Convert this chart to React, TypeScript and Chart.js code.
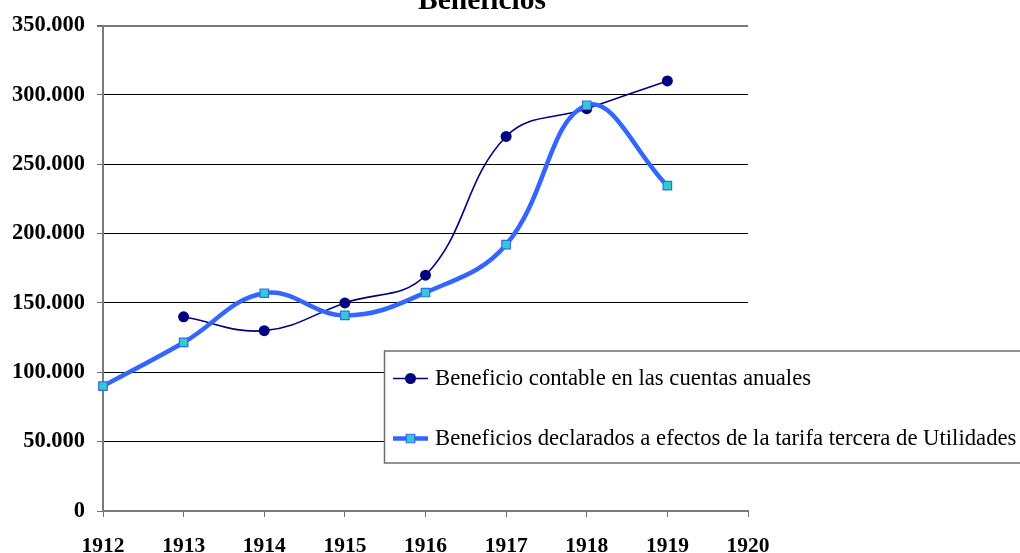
import React, { useEffect, useRef } from "react";
import { Chart, registerables } from "chart.js";

Chart.register(...registerables);

const chartTitle = "Beneficios";
const years = [1912, 1913, 1914, 1915, 1916, 1917, 1918, 1919];
const beneficioContable = [null, 140000, 130000, 150000, 170000, 270000, 290000, 310000];
const beneficiosDeclarados = [90000, 121500, 157000, 141000, 157500, 192000, 292500, 234500];
const seriesLabels = [
  "Beneficio contable en las cuentas anuales",
  "Beneficios declarados a efectos de la tarifa tercera de Utilidades",
];
const xMin = 1912;
const xMax = 1920;
const yMax = 350000;
const yStep = 50000;

const SERIF = "'Liberation Serif', 'Times New Roman', serif";

function fmt(v: number): string {
  return String(Math.round(v)).replace(/\B(?=(\d{3})+(?!\d))/g, ".");
}

const titlePlugin = {
  id: "excelTitle",
  afterDraw(chart: any) {
    const ctx = chart.ctx;
    ctx.save();
    ctx.font = `bold 29.5px ${SERIF}`;
    ctx.fillStyle = "#000";
    ctx.textAlign = "center";
    ctx.textBaseline = "alphabetic";
    ctx.fillText(chartTitle, 482, 8.5);
    ctx.restore();
  },
};

const legendPlugin = {
  id: "excelLegend",
  afterDraw(chart: any) {
    const ctx = chart.ctx;
    ctx.save();
    const bx = 384.5, by = 351, bw = 700, bh = 112;
    ctx.fillStyle = "#fff";
    ctx.fillRect(bx, by, bw, bh);
    ctx.strokeStyle = "#6e6e6e";
    ctx.lineWidth = 1.5;
    ctx.strokeRect(bx, by, bw, bh);
    const rows = [378.5, 438.5];
    chart.data.datasets.forEach((ds: any, i: number) => {
      const cy = rows[i];
      ctx.strokeStyle = ds.borderColor;
      ctx.lineWidth = ds.borderWidth;
      ctx.lineCap = "butt";
      ctx.beginPath();
      ctx.moveTo(393, cy);
      ctx.lineTo(428, cy);
      ctx.stroke();
      ctx.fillStyle = ds.pointBackgroundColor;
      ctx.strokeStyle = ds.pointBorderColor;
      ctx.lineWidth = ds.pointBorderWidth;
      const r = ds.pointRadius;
      const mx = 410.5;
      if (ds.pointStyle === "rect") {
        const s = r * Math.SQRT1_2;
        ctx.beginPath();
        ctx.rect(mx - s, cy - s, 2 * s, 2 * s);
        ctx.fill();
        ctx.stroke();
      } else {
        ctx.beginPath();
        ctx.arc(mx, cy, r, 0, Math.PI * 2);
        ctx.fill();
        if (ds.pointBorderWidth) ctx.stroke();
      }
      ctx.fillStyle = "#000";
      ctx.font = `22.7px ${SERIF}`;
      ctx.textAlign = "left";
      ctx.textBaseline = "middle";
      ctx.fillText(ds.label, 435, cy + 1);
    });
    ctx.restore();
  },
};

export default function App() {
  const ref = useRef<HTMLCanvasElement | null>(null);

  useEffect(() => {
    document.body.style.margin = "0";
    const canvas = ref.current;
    if (!canvas) return;
    const s1 = years.map((y, i) => ({ x: y, y: beneficioContable[i] }));
    const s2 = years.map((y, i) => ({ x: y, y: beneficiosDeclarados[i] }));
    const chart = new Chart(canvas, {
      type: "line",
      data: {
        datasets: [
          {
            label: seriesLabels[0],
            data: s1,
            borderColor: "#000080",
            backgroundColor: "#000080",
            borderWidth: 1.6,
            pointStyle: "circle",
            pointRadius: 5.5,
            pointBackgroundColor: "#000080",
            pointBorderColor: "#000080",
            pointBorderWidth: 0,
            tension: 0.4,
            spanGaps: false,
            clip: false,
            order: 1,
          },
          {
            label: seriesLabels[1],
            data: s2,
            borderColor: "#3366FF",
            backgroundColor: "#33CCCC",
            borderWidth: 4.5,
            pointStyle: "rect",
            pointRadius: 6,
            pointBackgroundColor: "#33CCCC",
            pointBorderColor: "#3366FF",
            pointBorderWidth: 1.2,
            tension: 0.4,
            clip: false,
            order: 0,
          },
        ] as any,
      },
      options: {
        animation: false,
        responsive: false,
        events: [],
        layout: { padding: { top: 22, right: 272, left: 0, bottom: 0 } },
        plugins: {
          legend: { display: false },
          title: { display: false },
          tooltip: { enabled: false },
        },
        scales: {
          x: {
            type: "linear",
            min: xMin,
            max: xMax,
            afterFit: (s: any) => {
              s.height = 42;
            },
            ticks: {
              stepSize: 1,
              color: "#000",
              padding: 17,
              maxRotation: 0,
              autoSkip: false,
              font: { family: SERIF, size: 21.5, weight: "bold" },
              callback: (v: any) => String(v),
            },
            grid: {
              drawOnChartArea: false,
              drawTicks: true,
              tickLength: 6,
              tickColor: "#6e6e6e",
              tickWidth: 1,
            },
            border: { color: "#7a7a7a", width: 2 },
          },
          y: {
            type: "linear",
            min: 0,
            max: yMax,
            afterFit: (s: any) => {
              s.width = 103;
            },
            ticks: {
              stepSize: yStep,
              color: "#000",
              padding: 12,
              font: { family: SERIF, size: 22.5, weight: "bold" },
              callback: (v: any) => fmt(Number(v)),
            },
            grid: {
              color: (c: any) =>
                c.tick && (c.tick.value === yMax || c.tick.value === 0) ? "#7a7a7a" : "#000",
              lineWidth: (c: any) => (c.tick && c.tick.value === yMax ? 2 : 1),
              tickLength: 6,
              tickColor: "#6e6e6e",
            },
            border: { color: "#7a7a7a", width: 2 },
          },
        },
      } as any,
      plugins: [titlePlugin, legendPlugin],
    });
    return () => chart.destroy();
  }, []);

  return (
    <div style={{ width: 1020, height: 553, background: "#fff" }}>
      <canvas ref={ref} width={1020} height={553} />
    </div>
  );
}
